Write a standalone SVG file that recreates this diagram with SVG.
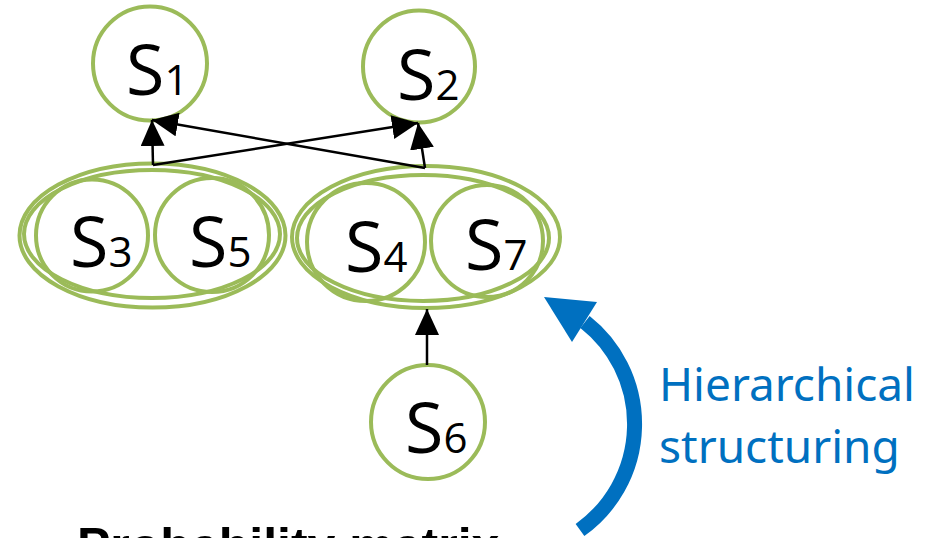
<svg xmlns="http://www.w3.org/2000/svg" width="928" height="538" viewBox="0 0 928 538">
  <style>
    .node { fill: none; stroke: #9BBB59; stroke-width: 4; }
    .lbl { font-family: "Open Sans", "Noto Sans", sans-serif; font-size: 70px; fill: #000; }
    .sub { font-size: 42px; }
    .edge { fill: none; stroke: #000; stroke-width: 2.5; }
    .note { font-family: "Noto Sans", "Open Sans", sans-serif; font-size: 46px; fill: #0070C0; }
    .title { font-family: "Liberation Sans", Arial, sans-serif; font-weight: bold; font-size: 50px; fill: #000; }
  </style>
  <defs>
    <marker id="head" viewBox="0 0 26 24" refX="26" refY="12" markerWidth="26" markerHeight="24" markerUnits="userSpaceOnUse" orient="auto">
      <path d="M0,0 L26,12 L0,24 z" fill="#000"/>
    </marker>
  </defs>

  <!-- single states -->
  <g id="s1">
    <circle class="node" cx="150" cy="63.5" r="57"/>
    <text class="lbl" x="126" y="95">S<tspan class="sub">1</tspan></text>
  </g>
  <g id="s2">
    <circle class="node" cx="419" cy="66.5" r="56"/>
    <text class="lbl" x="397" y="100">S<tspan class="sub">2</tspan></text>
  </g>

  <!-- grouped states: S3 + S5 -->
  <g id="group35">
    <ellipse class="node" cx="152.5" cy="235.5" rx="133" ry="72"/>
    <ellipse class="node" cx="152" cy="234" rx="128" ry="64"/>
  </g>
  <g id="s3">
    <circle class="node" cx="92" cy="235.5" r="56"/>
    <text class="lbl" x="70" y="267">S<tspan class="sub">3</tspan></text>
  </g>
  <g id="s5">
    <circle class="node" cx="212" cy="235" r="57"/>
    <text class="lbl" x="189" y="267">S<tspan class="sub">5</tspan></text>
  </g>

  <!-- grouped states: S4 + S7 -->
  <g id="group47">
    <ellipse class="node" cx="426" cy="237" rx="134" ry="71"/>
    <ellipse class="node" cx="423" cy="238" rx="126" ry="63"/>
  </g>
  <g id="s4">
    <circle class="node" cx="366" cy="242" r="59"/>
    <text class="lbl" x="345" y="272">S<tspan class="sub">4</tspan></text>
  </g>
  <g id="s7">
    <circle class="node" cx="487" cy="241" r="56"/>
    <text class="lbl" x="465" y="270">S<tspan class="sub">7</tspan></text>
  </g>

  <g id="s6">
    <circle class="node" cx="428" cy="422" r="57"/>
    <text class="lbl" x="405" y="453">S<tspan class="sub">6</tspan></text>
  </g>

  <!-- connectors -->
  <g id="edges">
    <path class="edge" d="M153,165 L152,120" marker-end="url(#head)"/>
    <path class="edge" d="M153,165 L418,123" marker-end="url(#head)"/>
    <path class="edge" d="M425,168 L418,123" marker-end="url(#head)"/>
    <path class="edge" d="M425,168 L152,120" marker-end="url(#head)"/>
    <path class="edge" d="M427,365 L427,309" marker-end="url(#head)"/>
  </g>

  <!-- hierarchical structuring arrow -->
  <g id="structuring">
    <path d="M580,530 A130,130 0 0 0 585,322" fill="none" stroke="#0070C0" stroke-width="15"/>
    <polygon points="544,297 597,302 572,342" fill="#0070C0"/>
    <text class="note" x="659" y="401">Hierarchical</text>
    <text class="note" x="659" y="463">structuring</text>
  </g>

  <text class="title" x="77" y="563">Probability matrix</text>
</svg>
